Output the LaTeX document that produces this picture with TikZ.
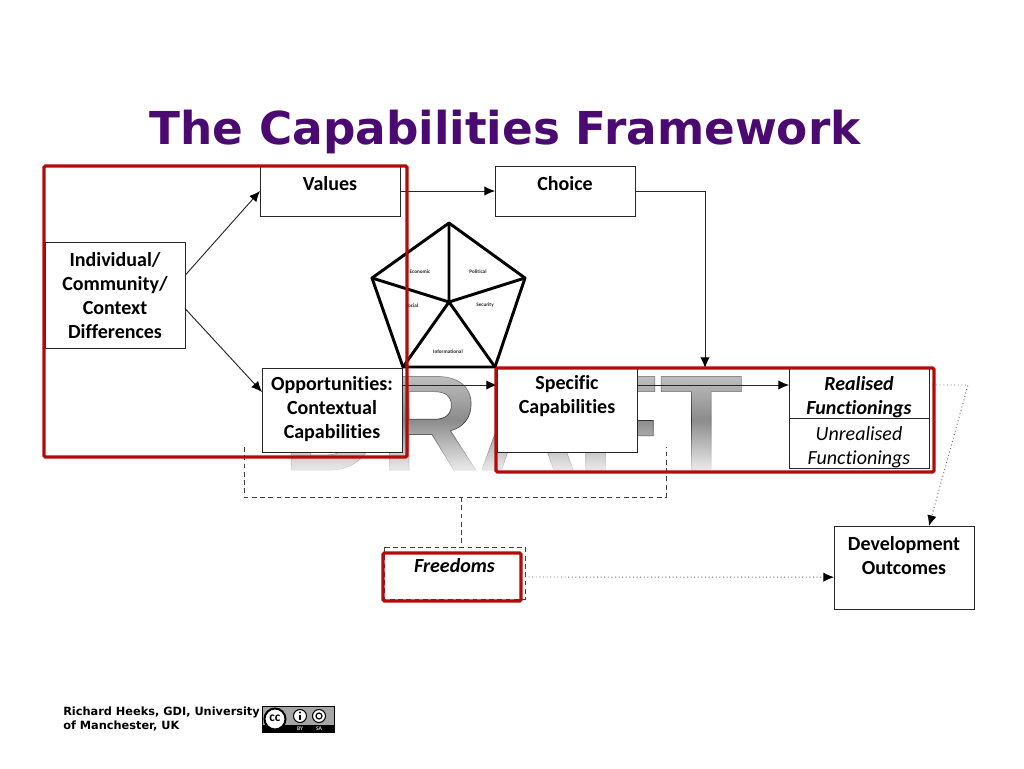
\documentclass[tikz,border=0pt]{standalone}
\usepackage{fontspec}
\setmainfont{Carlito}[Ligatures=NoCommon]
\newfontfamily\titlefont{DejaVu Sans}
\newfontfamily\draftfont{Liberation Sans}
\usetikzlibrary{arrows.meta,calc,fadings}
\newcommand{\bxt}[3]{\parbox[c][#2pt][t]{105pt}{\centering\fontsize{15}{18}\selectfont\vspace*{#1pt}#3}}
\tikzfading[name=fadeupper, top color=transparent!45, bottom color=transparent!100]
\tikzfading[name=fadelower, top color=transparent!100, bottom color=transparent!12]
\definecolor{redbox}{HTML}{B40A0A}
\definecolor{titlepurple}{HTML}{4B0A72}
\tikzset{
  frame/.style={draw=black!85,line width=.7pt,fill=white,inner sep=0pt,anchor=north west,outer sep=0pt},
  arrowline/.style={draw=black!85,line width=.7pt,-{Latex[length=8pt,width=7pt,black]}},
  dotline/.style={draw=black!60,line width=.7pt,dotted,-{Latex[length=8pt,width=7pt,black]}},
  dashline/.style={draw=black!75,line width=.75pt,dash pattern=on 3.6pt off 2.6pt},
  redframe/.style={draw=redbox,line width=2.4pt,rounded corners=1pt},
  penta/.style={draw=black,line width=2.2pt,line join=round,line cap=round},
  tiny/.style={font=\bfseries\fontsize{3.9}{4}\selectfont,inner sep=0pt,text=black!85},
}
\begin{document}
\begin{tikzpicture}[x=.75pt,y=-.75pt]
\useasboundingbox (0,0) rectangle (1024,768);
\fill[white] (0,0) rectangle (1024,768);
% watermark
\node[inner sep=0pt,anchor=base,text=black!45,font=\draftfont\bfseries\fontsize{102}{102}\selectfont] (draft) at (512.5,470) {\special{pdf:code 2 Tr 0.5 w 0.2 G}DRAFT\special{pdf:code 0 Tr 0 G}};
\fill[white,path fading=fadeupper] (280,365) rectangle (760,420);
\fill[white,path fading=fadelower] (280,420) rectangle (760,473);
% title
\node[inner sep=0pt,anchor=base,text=titlepurple,font=\titlefont\bfseries\fontsize{34}{34}\selectfont] (title) at (505,144) {The Capabilities Framework};
% pentagon
\coordinate (pa) at (449,223);
\coordinate (pb) at (525,278);
\coordinate (pc) at (495,367);
\coordinate (pd) at (403,367);
\coordinate (pe) at (372,278);
\coordinate (pm) at (449,302);
\draw[penta] (pa)--(pb)--(pc)--(pd)--(pe)--cycle;
\draw[penta] (pa)--(pm) (pb)--(pm) (pc)--(pm) (pd)--(pm) (pe)--(pm);
\node[tiny] (peco) at (420,271.5) {Economic};
\node[tiny] (ppol) at (478,272) {Political};
\node[tiny] (psoc) at (412,305.5) {Social};
\node[tiny] (psec) at (485,305.5) {Security};
\node[tiny] (pinf) at (448,351.5) {Informational};
% boxes
\node[frame] (val) at (260,166) {\bxt{8}{37.5}{\bfseries Values}};
\node[frame] (cho) at (495,166) {\bxt{8}{37.5}{\bfseries Choice}};
\node[frame] (ind) at (45,242) {\bxt{8}{80.2}{\bfseries Individual/\\Community/\\Context\\Differences}};
\node[frame] (opp) at (262,368) {\bxt{6}{63}{\bfseries Opportunities:\\Contextual\\Capabilities}};
\node[frame] (spe) at (497,368) {\bxt{5.7}{63}{\bfseries Specific\\Capabilities}};
\node[frame] (rea) at (789,368) {\bxt{6}{37.5}{\bfseries\itshape Realised\\Functionings}};
\node[frame] (unr) at (789,418) {\bxt{6.2}{38}{\itshape Unrealised\\Functionings}};
\node[frame] (dev) at (834,526) {\bxt{8}{62.5}{\bfseries Development\\Outcomes}};
\node[inner sep=0pt,anchor=north west,outer sep=0pt,minimum width=105.75pt,minimum height=39pt] (fre) at (384,547) {\bxt{8.7}{39}{\bfseries\itshape Freedoms}};
\draw[dashline] (fre.north west) rectangle (fre.south east);
% connectors
\draw[arrowline] ($(ind.east)+(0,-20)$) -- (val.west);
\draw[arrowline] ($(ind.east)+(0,13)$) -- ($(opp.west)+(0,-18)$);
\draw[arrowline] (val.east) -- (cho.west);
\draw[arrowline] (cho.east) -| (rea.north -| 705,368);
\draw[arrowline] ($(opp.east)+(0,-25)$) -- ($(spe.west)+(0,-25)$);
\draw[arrowline] ($(spe.east)+(0,-25)$) -- ($(rea.west)+(0,-8)$);
\coordinate (bend) at (968,385);
\draw[dotline] ($(rea.east)+(0,-8)$) -- (bend) -- ($(dev.north)+(25,0)$);
\draw[dotline] ($(fre.east)+(0,4)$) -- ($(dev.west)+(0,9.5)$);
\coordinate (dl) at (244,447);
\coordinate (dr) at (666,447);
\coordinate (dj) at (461,497);
\draw[dashline] (dl) |- (dr |- dj) -- (dr);
\draw[dashline] (dj) -- (fre.north -| dj);
% red frames
\draw[redframe] (44,166) rectangle (407,457);
\draw[redframe] (496,368) rectangle (934,472);
\draw[redframe] (383,553) rectangle (521,601);
% footer
\node[inner sep=0pt,anchor=north west,align=left,font=\titlefont\bfseries\fontsize{8.5}{10}\selectfont,text=black] (foot) at (63,707) {Richard Heeks, GDI, University\\of Manchester, UK};
% cc badge
\fill[black] (262,706) rectangle (335,733);
\fill[black!35] (263,707) rectangle (334,725);
\fill[white,draw=black,line width=1.5pt] (275,719) circle (10.5);
\node[inner sep=0pt,font=\bfseries\fontsize{10}{10}\selectfont] (cc) at (275,718.5) {cc};
\fill[white,draw=black,line width=.8pt] (300,716) circle (6.5);
\fill[black] (300,712.5) circle (1.2);
\fill[black] (298.7,714.5) rectangle (301.3,720);
\fill[white,draw=black,line width=.8pt] (319,716) circle (6.5);
\draw[black,line width=.9pt] (319,716) circle (3);
\node[inner sep=0pt,text=white!85!black,font=\bfseries\fontsize{4.2}{4}\selectfont] (by) at (300,729) {BY};
\node[inner sep=0pt,text=white!85!black,font=\bfseries\fontsize{4.2}{4}\selectfont] (sa) at (319,729) {SA};
\end{tikzpicture}
\end{document}
